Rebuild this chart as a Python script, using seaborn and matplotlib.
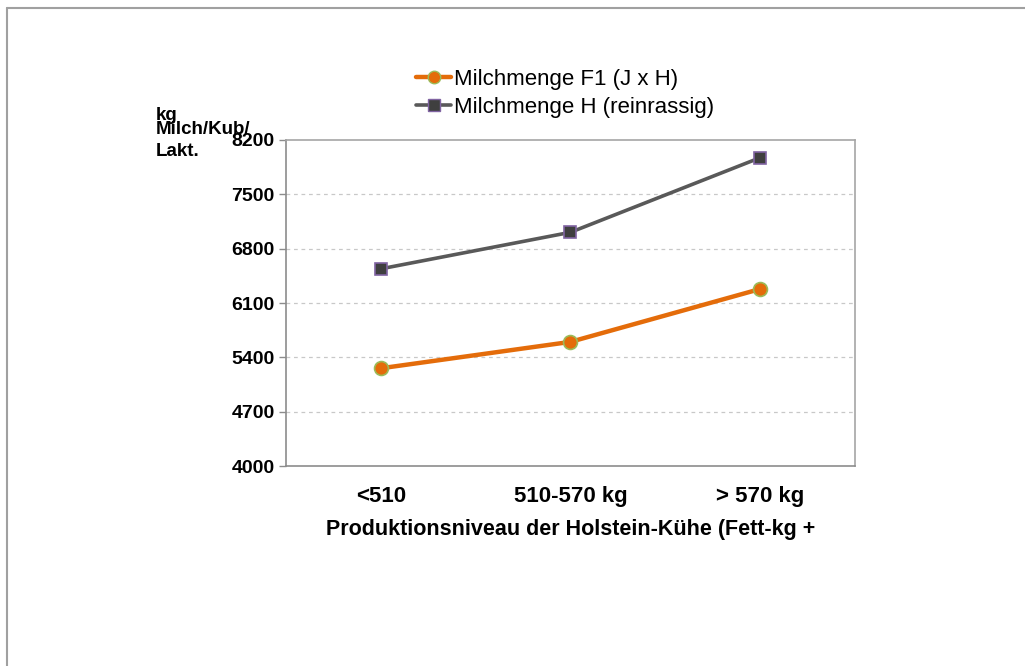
import pandas as pd
import matplotlib
matplotlib.use("Agg")
import matplotlib.pyplot as plt
import seaborn as sns
from matplotlib.lines import Line2D

# data
categories = ["<510", "510-570 kg", "> 570 kg"]
f1_values = [5260, 5600, 6280]
h_values = [6540, 7010, 7970]
y_ticks = [4000, 4700, 5400, 6100, 6800, 7500, 8200]
series_names = ["Milchmenge F1 (J x H)", "Milchmenge H (reinrassig)"]

sns.set_theme(style="white")
plt.rcParams["font.family"] = ["Liberation Sans", "DejaVu Sans"]
plt.rcParams["text.color"] = "black"
plt.rcParams["xtick.labelcolor"] = "black"
plt.rcParams["ytick.labelcolor"] = "black"
plt.rcParams["axes.labelcolor"] = "black"

df = pd.DataFrame({
    "pos": list(range(len(categories))) * 2,
    "value": f1_values + h_values,
    "series": [series_names[0]] * 3 + [series_names[1]] * 3,
})

fig = plt.figure(figsize=(10.25, 6.66), dpi=100)
ax = fig.add_axes([0.279, 0.300, 0.555, 0.490])

sns.lineplot(data=df[df.series == series_names[0]], x="pos", y="value",
             color="#E46C0A", lw=3.2, marker="o", markersize=10,
             markerfacecolor="#E46C0A", markeredgecolor="#9BBB59",
             markeredgewidth=1.2, ax=ax, legend=False)
sns.lineplot(data=df[df.series == series_names[1]], x="pos", y="value",
             color="#595959", lw=2.6, marker="s", markersize=9,
             markerfacecolor="#3F3F3F", markeredgecolor="#8064A2",
             markeredgewidth=1.2, ax=ax, legend=False)

ax.set_xlim(-0.5, 2.5)
ax.set_ylim(4000, 8200)
ax.set_yticks(y_ticks)
ax.set_yticklabels([str(t) for t in y_ticks], fontsize=14, fontweight="bold")
ax.set_xticks(range(len(categories)))
ax.set_xticklabels(categories, fontsize=16, fontweight="bold")
ax.set_xticks([-0.5, 0.5, 1.5, 2.5], minor=True)
ax.tick_params(axis="x", which="major", length=0, pad=14)
ax.tick_params(axis="x", which="minor", length=6, color="#8C8C8C", width=1)
ax.tick_params(axis="y", length=5, color="#8C8C8C", width=1, direction="out",
               left=True, pad=3)
for t in y_ticks[1:-1]:
    ax.axhline(t, color="#C8C8C8", lw=0.9, ls=(0, (3, 3)), zorder=0)

for s in ax.spines.values():
    s.set_color("#A6A6A6")
    s.set_linewidth(1.2)
ax.spines["bottom"].set_color("#8C8C8C")
ax.spines["left"].set_color("#8C8C8C")

ax.set_xlabel("Produktionsniveau der Holstein-Kühe (Fett-kg +", fontsize=15.5,
              fontweight="bold", labelpad=9)
ax.set_ylabel("")

# y axis title (Excel-style, wrapped and overlapping)
fig.text(0.152, 1 - 120 / 666, "kg", fontsize=13.5, fontweight="bold", va="baseline")
fig.text(0.152, 1 - 134 / 666, "Milch/Kub/", fontsize=13.5, fontweight="bold", va="baseline")
fig.text(0.152, 1 - 156 / 666, "Lakt.", fontsize=13.5, fontweight="bold", va="baseline")

handles = [
    Line2D([], [], color="#E46C0A", lw=3.2, marker="o", markersize=9,
           markerfacecolor="#E46C0A", markeredgecolor="#9BBB59"),
    Line2D([], [], color="#595959", lw=2.6, marker="s", markersize=8,
           markerfacecolor="#3F3F3F", markeredgecolor="#8064A2"),
]
fig.legend(handles, series_names,
           loc="center left", bbox_to_anchor=(0.397, 0.86), frameon=False,
           fontsize=16, handlelength=1.6, handletextpad=0.1, labelspacing=0.3,
           borderaxespad=0)

# outer frame: top and left only
fig.add_artist(Line2D([0.007, 1.0], [0.988, 0.988], color="#A0A0A0", lw=1.5,
                      transform=fig.transFigure))
fig.add_artist(Line2D([0.007, 0.007], [0.0, 0.988], color="#A0A0A0", lw=1.5,
                      transform=fig.transFigure))

fig.savefig("out.png", dpi=100, facecolor="white")
